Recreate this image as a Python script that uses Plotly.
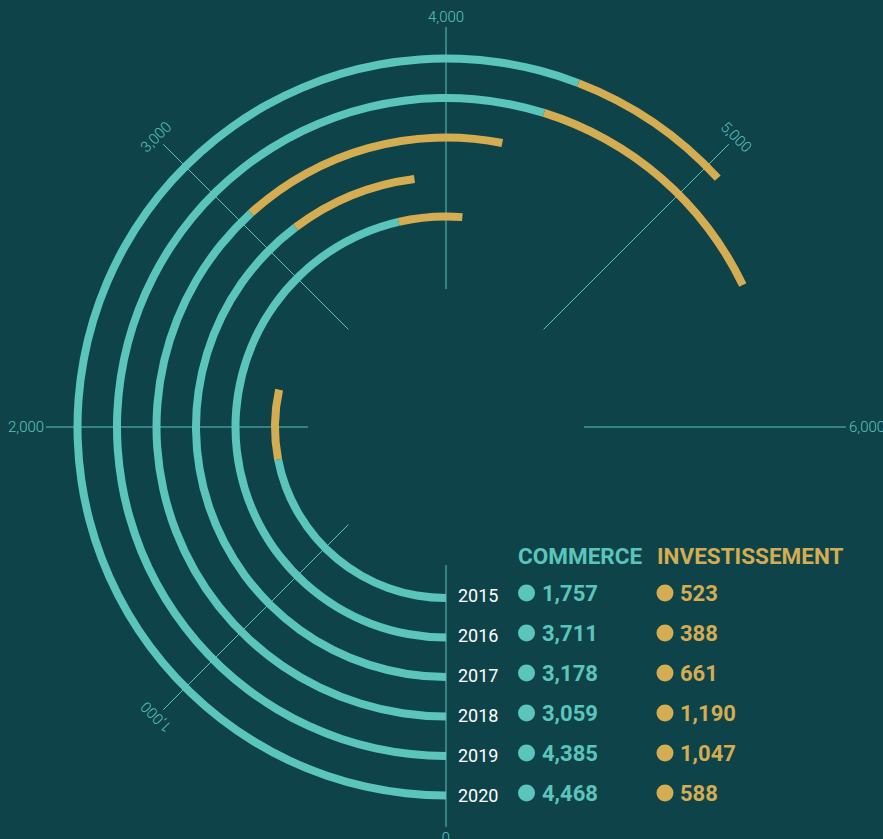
import math
import plotly.graph_objects as go

# ---------------- data ----------------
years = ["2015", "2016", "2017", "2018", "2019", "2020"]
commerce = [1757, 3711, 3178, 3059, 4385, 4468]
investissement = [523, 388, 661, 1190, 1047, 588]
tick_values = [0, 1000, 2000, 3000, 4000, 5000, 6000]
tick_labels = ["0", "1,000", "2,000", "3,000", "4,000", "5,000", "6,000"]
series_names = ["COMMERCE", "INVESTISSEMENT"]

# ---------------- style ----------------
BG = "#0F434A"
TEAL = "#5BC5BC"
GOLD = "#D4AD52"
W, H = 883, 839
CX, CY = 446, 427          # centre of polar area in pixels
R_OUT = 400                # outer radius in pixels
HOLE_R = 138
FULL = 8000.0              # value of a full turn
DEG = 360.0 / FULL
R0, STEP, THICK = 171, 39.5, 8

def fmt(v):
    return f"{v:,}"

radii = [R0 + i * STEP for i in range(len(years))]
bases = [r - THICK / 2 for r in radii]

fig = go.Figure()
fig.add_trace(go.Barpolar(
    r=[THICK] * len(years), base=bases,
    theta=[c * DEG / 2 for c in commerce],
    width=[c * DEG for c in commerce],
    marker=dict(color=TEAL, line=dict(width=0)),
    name=series_names[0], showlegend=False,
))
fig.add_trace(go.Barpolar(
    r=[THICK] * len(years), base=bases,
    theta=[(c + v / 2) * DEG for c, v in zip(commerce, investissement)],
    width=[v * DEG for v in investissement],
    marker=dict(color=GOLD, line=dict(width=0)),
    name=series_names[1], showlegend=False,
))

fig.update_layout(
    width=W, height=H,
    margin=dict(l=0, r=0, t=0, b=0),
    paper_bgcolor=BG, plot_bgcolor=BG,
    showlegend=False,
    polar=dict(
        domain=dict(x=[(CX - R_OUT) / W, (CX + R_OUT) / W],
                    y=[1 - (CY + R_OUT) / H, 1 - (CY - R_OUT) / H]),
        bgcolor=BG,
        hole=HOLE_R / R_OUT,
        barmode="overlay",
        radialaxis=dict(range=[HOLE_R, R_OUT], visible=False),
        angularaxis=dict(
            direction="clockwise", rotation=270, thetaunit="degrees",
            tickmode="array", tickvals=[v * DEG for v in tick_values],
            showticklabels=False, ticks="",
            showgrid=True, gridcolor=TEAL, gridwidth=1,
            showline=False, layer="above traces",
        ),
    ),
)

annotations = []
shapes = []
angles = {0: 180, 1000: 225, 2000: 0, 3000: -45, 4000: 0, 5000: 45, 6000: 0}
for v, lab in zip(tick_values, tick_labels):
    a = math.radians(v * DEG)
    xanchor = "center"
    r = 410
    if v == 2000:
        r, xanchor = 400, "right"
    elif v == 6000:
        r, xanchor = 401, "left"
    px = CX - r * math.sin(a)
    py = CY + r * math.cos(a)
    annotations.append(dict(
        x=px / W, y=1 - py / H, xref="paper", yref="paper",
        text=lab, showarrow=False, xanchor=xanchor, yanchor="middle",
        textangle=angles[v],
        font=dict(family="Roboto", size=15, color=TEAL, weight=300),
    ))

# table header
HEAD_Y = 556
annotations.append(dict(x=516 / W, y=1 - HEAD_Y / H, xref="paper", yref="paper",
                        text=series_names[0], showarrow=False, xanchor="left", yanchor="middle",
                        font=dict(family="Roboto", size=22.5, color=TEAL, weight=700)))
annotations.append(dict(x=655 / W, y=1 - HEAD_Y / H, xref="paper", yref="paper",
                        text=series_names[1], showarrow=False, xanchor="left", yanchor="middle",
                        font=dict(family="Roboto", size=22.5, color=GOLD, weight=700)))

for i, (yr, c, v) in enumerate(zip(years, commerce, investissement)):
    ry = 595 + 40 * i
    annotations.append(dict(x=456 / W, y=1 - ry / H, xref="paper", yref="paper",
                            text=yr, showarrow=False, xanchor="left", yanchor="middle",
                            font=dict(family="Roboto", size=18, color="white")))
    annotations.append(dict(x=540 / W, y=1 - (ry - 2) / H, xref="paper", yref="paper",
                            text=fmt(c), showarrow=False, xanchor="left", yanchor="middle",
                            font=dict(family="Roboto", size=22, color=TEAL, weight=700)))
    annotations.append(dict(x=678 / W, y=1 - (ry - 2) / H, xref="paper", yref="paper",
                            text=fmt(v), showarrow=False, xanchor="left", yanchor="middle",
                            font=dict(family="Roboto", size=22, color=GOLD, weight=700)))
    for dx, col in ((526.5, TEAL), (665, GOLD)):
        shapes.append(dict(type="circle", xref="paper", yref="paper",
                           x0=(dx - 8.5) / W, x1=(dx + 8.5) / W,
                           y0=1 - (ry - 2 + 8.5) / H, y1=1 - (ry - 2 - 8.5) / H,
                           fillcolor=col, line=dict(width=0)))

fig.update_layout(annotations=annotations, shapes=shapes)
fig.write_html("out.html",
               config={"displayModeBar": False},
               post_script="document.body.style.margin='0';document.body.style.overflow='hidden';")
